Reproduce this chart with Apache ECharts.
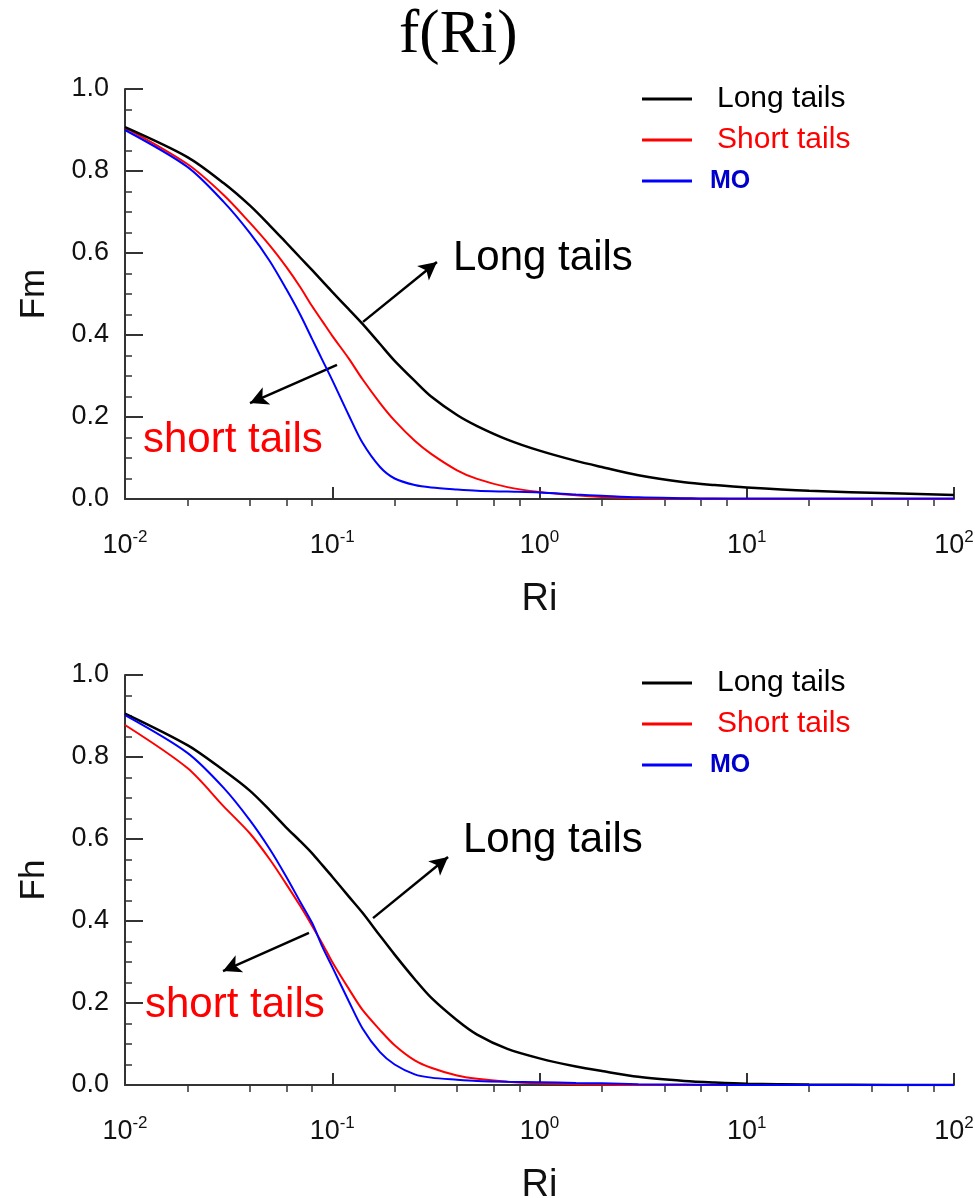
<!DOCTYPE html>
<html>
<head>
<meta charset="utf-8">
<script src="https://cdn.jsdelivr.net/npm/echarts@6/dist/echarts.min.js"></script>
<style>
  html, body { margin: 0; padding: 0; background: #fff; }
  #chart { width: 975px; height: 1198px; }
</style>
</head>
<body>
<div id="chart"></div>
<script>
// Richardson number samples shared by every curve
const ri = [0.01, 0.02, 0.03, 0.04, 0.05, 0.06, 0.07, 0.08, 0.09, 0.1,
            0.12, 0.14, 0.17, 0.2, 0.25, 0.3, 0.4, 0.5, 0.7, 1,
            1.5, 2, 3, 5, 7, 10, 20, 50, 100];

// Momentum stability function Fm
const fmLong  = [0.907, 0.834, 0.77, 0.716, 0.667, 0.625, 0.589, 0.558, 0.53, 0.505,
                 0.463, 0.427, 0.378, 0.337, 0.288, 0.25, 0.205, 0.178, 0.145, 0.118,
                 0.093, 0.078, 0.058, 0.041, 0.034, 0.028, 0.02, 0.014, 0.01];
const fmShort = [0.906, 0.817, 0.741, 0.674, 0.618, 0.566, 0.517, 0.47, 0.432, 0.398,
                 0.343, 0.292, 0.234, 0.191, 0.142, 0.11, 0.07, 0.049, 0.029, 0.017,
                 0.009, 0.005, 0.002, 0.001, 0.0005, 0, 0, 0, 0];
const fmMO    = [0.9, 0.81, 0.724, 0.649, 0.58, 0.512, 0.45, 0.39, 0.337, 0.29,
                 0.205, 0.137, 0.078, 0.05, 0.034, 0.028, 0.023, 0.02, 0.018, 0.016,
                 0.011, 0.008, 0.004, 0.002, 0.001, 0.001, 0.001, 0.001, 0.001];

// Heat stability function Fh
const fhLong  = [0.906, 0.829, 0.767, 0.718, 0.67, 0.628, 0.595, 0.565, 0.535, 0.508,
                 0.46, 0.42, 0.364, 0.318, 0.258, 0.213, 0.158, 0.123, 0.088, 0.065,
                 0.045, 0.034, 0.02, 0.01, 0.006, 0.003, 0.001, 0, 0];
const fhShort = [0.878, 0.773, 0.679, 0.614, 0.55, 0.49, 0.437, 0.388, 0.343, 0.3,
                 0.235, 0.183, 0.134, 0.097, 0.06, 0.042, 0.023, 0.015, 0.008, 0.004,
                 0.002, 0.001, 0, 0, 0, 0, 0, 0, 0];
const fhMO    = [0.902, 0.81, 0.724, 0.646, 0.575, 0.508, 0.447, 0.395, 0.335, 0.288,
                 0.205, 0.138, 0.08, 0.05, 0.026, 0.018, 0.013, 0.01, 0.008, 0.007,
                 0.005, 0.004, 0.002, 0.001, 0.0005, 0, 0, 0, 0];

// Minor tick positions on the log axis (2, 4, 6, 8 within each decade)
const minorTicksX = [0.02, 0.04, 0.06, 0.08, 0.2, 0.4, 0.6, 0.8,
                     2, 4, 6, 8, 20, 40, 60, 80];

// Arrow end points (data space) for the in-plot annotations
const fmArrowLong  = [[0.1408, 0.432], [0.32, 0.578]];
const fmArrowShort = [[0.1054, 0.327], [0.0401, 0.234]];
const fhArrowLong  = [[0.1573, 0.407], [0.362, 0.556]];
const fhArrowShort = [[0.0772, 0.371], [0.0297, 0.278]];

const SANS = '"Liberation Sans", Arial, Helvetica, sans-serif';
const AXIS = '#333';
const COLORS = { 'Long tails': '#000000', 'Short tails': '#ff0000', 'MO': '#0000ff' };

const pairs = ys => ri.map((x, i) => [x, ys[i]]);

function mainXAxis(grid) {
  return {
    type: 'log', logBase: 10, gridIndex: grid, min: 0.01, max: 100,
    position: 'bottom',
    axisLine: { show: true, lineStyle: { color: AXIS, width: 2 } },
    axisTick: { show: true, inside: true, length: 12, lineStyle: { color: AXIS, width: 2 } },
    minorTick: { show: false },
    splitLine: { show: false },
    axisLabel: {
      show: true, margin: 30, showMinLabel: true, showMaxLabel: true,
      formatter: v => '{b|10}{s|' + Math.round(Math.log10(v)) + '}',
      rich: {
        b: { fontFamily: SANS, fontSize: 27, color: '#111', lineHeight: 30, verticalAlign: 'bottom' },
        s: { fontFamily: SANS, fontSize: 17, color: '#111', lineHeight: 17, verticalAlign: 'top' }
      }
    },
    name: 'Ri', nameLocation: 'middle', nameGap: 82,
    nameTextStyle: { fontFamily: SANS, fontSize: 38, color: '#111' }
  };
}

function minorXAxis(grid) {
  return {
    type: 'log', logBase: 10, gridIndex: grid, min: 0.01, max: 100,
    position: 'bottom',
    axisLine: { show: false },
    axisTick: { show: true, inside: false, length: 7, customValues: minorTicksX,
                lineStyle: { color: AXIS, width: 1.5 } },
    axisLabel: { show: false },
    splitLine: { show: false }
  };
}

function yAxis(grid, name) {
  return {
    type: 'value', gridIndex: grid, min: 0, max: 1, interval: 0.2,
    axisLine: { show: true, lineStyle: { color: AXIS, width: 2 } },
    axisTick: { show: true, inside: true, length: 18, lineStyle: { color: AXIS, width: 2 } },
    minorTick: { show: true, splitNumber: 4, length: 7, lineStyle: { color: AXIS, width: 1.5 } },
    splitLine: { show: false },
    axisLabel: { margin: 16, formatter: v => v.toFixed(1),
                 fontFamily: SANS, fontSize: 27, color: '#111' },
    name: name, nameLocation: 'middle', nameGap: 73,
    nameTextStyle: { fontFamily: SANS, fontSize: 35, color: '#111' }
  };
}

function arrow(seg) {
  return [{ coord: seg[0], symbol: 'none' }, { coord: seg[1], symbol: 'arrow' }];
}

function curve(name, grid, ys, width, arrows) {
  const s = {
    name: name, type: 'line', xAxisIndex: grid * 2, yAxisIndex: grid,
    data: pairs(ys), showSymbol: false, symbol: 'none',
    smooth: 0.3,
    lineStyle: { color: COLORS[name], width: width }, itemStyle: { color: COLORS[name] },
    z: name === 'Long tails' ? 4 : (name === 'Short tails' ? 3 : 5),
    animation: false
  };
  if (arrows) {
    s.markLine = {
      silent: true, animation: false,
      symbol: ['none', 'arrow'], symbolSize: [14, 18],
      label: { show: false },
      lineStyle: { color: '#000', width: 2.5, type: 'solid' },
      emphasis: { disabled: true },
      data: arrows.map(arrow)
    };
  }
  return s;
}

function legend(top) {
  return {
    orient: 'vertical', left: 642, top: top, padding: 0,
    icon: 'rect', itemWidth: 50, itemHeight: 3, itemGap: 11,
    selectedMode: false,
    textStyle: { fontFamily: SANS, fontSize: 30, lineHeight: 30 },
    data: [
      { name: 'Long tails',  textStyle: { color: '#000', padding: [0, 0, 0, 20] } },
      { name: 'Short tails', textStyle: { color: '#ff0000', padding: [0, 0, 0, 20] } },
      { name: 'MO', textStyle: { color: '#0000cc', fontWeight: 'bold', fontSize: 25, padding: [0, 0, 0, 13] } }
    ]
  };
}

function note(text, x, y, color) {
  return { type: 'text', x: x, y: y, silent: true,
           style: { text: text, fill: color, font: '42px ' + SANS, verticalAlign: 'middle' } };
}

const chart = echarts.init(document.getElementById('chart'), null, { renderer: 'canvas' });
chart.setOption({
  backgroundColor: '#fff',
  animation: false,
  title: {
    text: 'f(Ri)', left: 399, top: 5, padding: 0,
    textStyle: { fontFamily: '"Liberation Serif", "Times New Roman", serif', fontSize: 61,
                 fontWeight: 'normal', color: '#000' }
  },
  legend: [legend(84), legend(668)],
  grid: [
    { left: 125, top: 89, width: 829, height: 410, outerBoundsMode: 'none', containLabel: false },
    { left: 125, top: 675, width: 829, height: 410, outerBoundsMode: 'none', containLabel: false }
  ],
  xAxis: [mainXAxis(0), minorXAxis(0), mainXAxis(1), minorXAxis(1)],
  yAxis: [yAxis(0, 'Fm'), yAxis(1, 'Fh')],
  series: [
    curve('Long tails', 0, fmLong, 2.5, [fmArrowLong, fmArrowShort]),
    curve('Short tails', 0, fmShort, 2),
    curve('MO', 0, fmMO, 2),
    curve('Long tails', 1, fhLong, 2.5, [fhArrowLong, fhArrowShort]),
    curve('Short tails', 1, fhShort, 2),
    curve('MO', 1, fhMO, 2)
  ],
  graphic: [
    note('Long tails', 453, 258, '#000'),
    note('short tails', 143, 440, '#ff0000'),
    note('Long tails', 463, 840, '#000'),
    note('short tails', 145, 1005, '#ff0000')
  ]
});
</script>
</body>
</html>
